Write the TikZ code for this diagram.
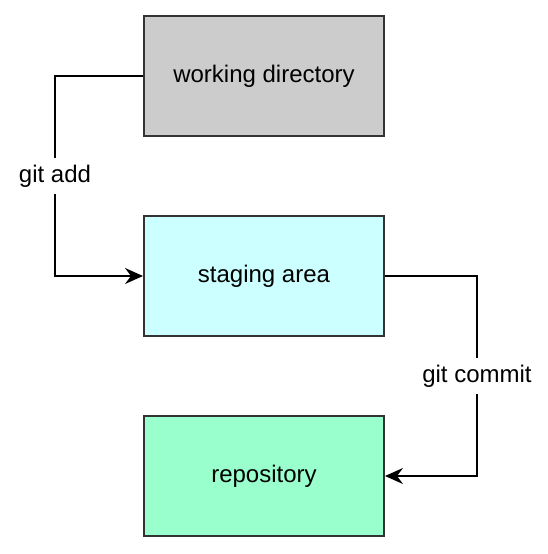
\documentclass[tikz,border=0pt]{standalone}
\usepackage{fontspec}
\setmainfont{Liberation Sans}
\usepackage{xcolor}
\definecolor{workfill}{HTML}{CCCCCC}
\definecolor{stagefill}{HTML}{CCFFFF}
\definecolor{repofill}{HTML}{99FFCC}
\definecolor{edgeline}{HTML}{333333}
\usetikzlibrary{arrows.meta, positioning}

\begin{document}
\begin{tikzpicture}[>={Stealth[length=9pt, width=8pt, inset=3pt]}, node distance=39pt]

  \useasboundingbox (0,0) rectangle (274pt,-277pt);

  \node[draw=edgeline, fill=workfill, line width=1pt,
        minimum width=120pt, minimum height=60pt,
        font=\fontsize{12}{14}\selectfont] (work) at (132pt,-38pt)
        {working directory};

  \node[draw=edgeline, fill=stagefill, line width=1pt,
        minimum width=120pt, minimum height=60pt,
        font=\fontsize{12}{14}\selectfont,
        below=of work] (stage)
        {staging area};

  \node[draw=edgeline, fill=repofill, line width=1pt,
        minimum width=120pt, minimum height=60pt,
        font=\fontsize{12}{14}\selectfont,
        below=of stage] (repo)
        {repository};

  \draw[->, line width=1pt] (work.west) -- ++(-44pt,0)
    |- node[pos=0.25, fill=white, font=\fontsize{12}{14}\selectfont] {git add} (stage.west);
  \draw[->, line width=1pt] (stage.east) -- ++(46pt,0)
    |- node[pos=0.25, fill=white, font=\fontsize{12}{14}\selectfont] {git commit} (repo.east);

\end{tikzpicture}
\end{document}
